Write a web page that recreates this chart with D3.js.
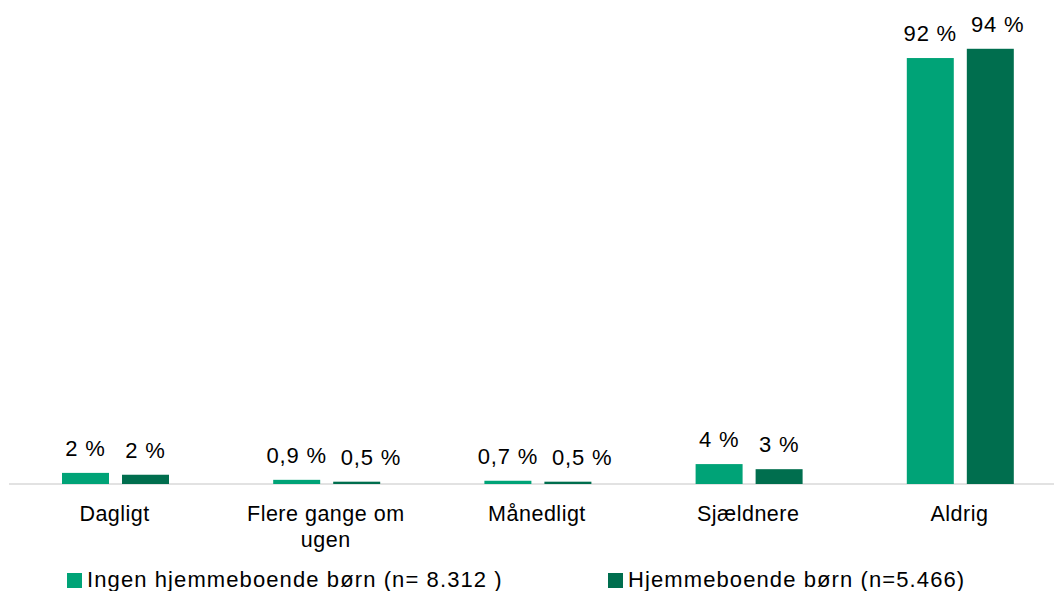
<!DOCTYPE html>
<html>
<head>
<meta charset="utf-8">
<script src="https://cdn.jsdelivr.net/npm/d3@7"></script>
<style>
  body { margin: 0; background: #fff; }
  svg { font-family: "Liberation Sans", Arial, sans-serif; }
</style>
</head>
<body>
<div id="chart"></div>
<script>
let width = 1054
  , height = 591;

// data
let categories = ['Dagligt', 'Flere gange om ugen', 'Månedligt', 'Sjældnere', 'Aldrig'];
let seriesNames = ['Ingen hjemmeboende børn (n= 8.312 )', 'Hjemmeboende børn (n=5.466)'];
let ingenBorn = [2.4, 0.9, 0.7, 4.3, 92];
let hjemmeBorn = [2.0, 0.5, 0.5, 3.2, 94];
let colors = ['#00A377', '#006E4E'];

let series = [ingenBorn, hjemmeBorn];

let svg = d3.select('#chart').append('svg')
  .attr('width', width).attr('height', height);

let x = d3.scaleBand().domain(categories).range([9, 1065]);
let x1 = d3.scaleBand().domain([0, 1]).range([53, 160]).paddingInner(0.217);
let y = d3.scaleLinear().domain([0, 100]).range([484, 21]);

// axis line
svg.append('line')
  .attr('x1', 9).attr('x2', width).attr('y1', y(0)).attr('y2', y(0))
  .attr('stroke', '#d9d9d9').attr('stroke-width', 1.5);

let fmt = v => (v < 1 ? d3.format('.1f')(v).replace('.', ',') : Math.round(v)) + ' %';

let groups = svg.selectAll('g.cat').data(categories).enter()
  .append('g').attr('class', 'cat')
  .attr('transform', d => 'translate(' + x(d) + ',0)');

series.forEach((vals, s) => {
  groups.append('rect')
    .attr('x', x1(s)).attr('width', x1.bandwidth())
    .attr('y', (d, i) => y(vals[i]))
    .attr('height', (d, i) => y(0) - y(vals[i]))
    .attr('fill', colors[s]);

  groups.append('text')
    .attr('class', 'val s' + s)
    .attr('x', x1(s) + x1.bandwidth() / 2)
    .attr('y', (d, i) => y(vals[i]) - 17)
    .attr('text-anchor', 'middle')
    .attr('font-size', 22)
    .attr('letter-spacing', 0.8)
    .attr('fill', '#000')
    .text((d, i) => fmt(vals[i]));
});

// push the second label right when the two labels would touch
groups.each(function() {
  let g = d3.select(this);
  let a = g.select('text.s0').node().getBBox();
  let bSel = g.select('text.s1');
  let b = bSel.node().getBBox();
  let overlap = (a.x + a.width + 14) - b.x;
  if (overlap > 0) bSel.attr('x', +bSel.attr('x') + overlap);
});

// category labels, wrapped like the original
let lines = { 'Flere gange om ugen': ['Flere gange om', 'ugen'] };
groups.append('text')
  .attr('x', x.bandwidth() / 2)
  .attr('y', 521)
  .attr('text-anchor', 'middle')
  .attr('font-size', 21.5)
  .attr('letter-spacing', 0.5)
  .attr('fill', '#000')
  .selectAll('tspan').data(d => lines[d] || [d]).enter()
  .append('tspan')
  .attr('x', x.bandwidth() / 2)
  .attr('dy', (d, i) => i ? 26 : 0)
  .text(d => d);

// legend
let legendX = [67, 608];
let legend = svg.selectAll('g.legend').data(seriesNames).enter()
  .append('g').attr('class', 'legend')
  .attr('transform', (d, i) => 'translate(' + legendX[i] + ',573)');
legend.append('rect').attr('width', 15).attr('height', 15).attr('fill', (d, i) => colors[i]);
legend.append('text').attr('x', 20).attr('y', 14)
  .attr('font-size', 22).attr('letter-spacing', 1.1)
  .attr('fill', '#000').text(d => d);
</script>
</body>
</html>
